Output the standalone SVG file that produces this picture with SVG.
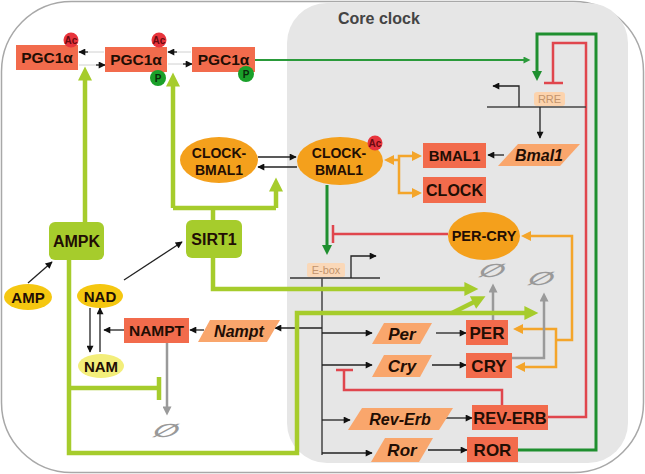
<svg xmlns="http://www.w3.org/2000/svg" width="645" height="474" viewBox="0 0 645 474">
<defs>
<style>
.t{font-family:"Liberation Sans",Arial,sans-serif;font-weight:bold;fill:#220e04;text-anchor:middle}
.i{font-style:italic}
.box{fill:#f26b4c}
.para{fill:#f9a66c}
.ell{fill:#f4a01c}
.grn{fill:#a6cc2c}
.yel{fill:#f5c710}
.lab{font-family:"Liberation Sans",Arial,sans-serif;font-size:11px;text-anchor:middle;fill:#c2946c}
.deg{font-family:"DejaVu Sans",sans-serif;font-size:22px;font-weight:bold;fill:#999;text-anchor:middle}
.k{fill:none;stroke:#222;stroke-width:1.3;marker-end:url(#mk)}
.lg{fill:none;stroke:#a6cc2c;stroke-width:4.5}
.dg{fill:none;stroke:#1f8f2f;stroke-width:3}
.rd{fill:none;stroke:#e0464d;stroke-width:2.5}
.or{fill:none;stroke:#f4a52a;stroke-width:2.5}
.gy{fill:none;stroke:#9a9a9a;stroke-width:2.5;marker-end:url(#mgy)}
</style>
<marker id="mk" viewBox="0 0 10 10" refX="9" refY="5" markerWidth="9" markerHeight="7" markerUnits="userSpaceOnUse" orient="auto"><path d="M0,0 L10,5 L0,10 z" fill="#111"/></marker>
<marker id="mlg" viewBox="0 0 10 10" refX="4" refY="5" markerWidth="16" markerHeight="14" markerUnits="userSpaceOnUse" orient="auto"><path d="M0,0 L10,5 L0,10 z" fill="#a6cc2c"/></marker>
<marker id="mdg" viewBox="0 0 10 10" refX="5" refY="5" markerWidth="14" markerHeight="10" markerUnits="userSpaceOnUse" orient="auto"><path d="M0,0 L10,5 L0,10 z" fill="#1f8f2f"/></marker>
<marker id="mdg2" viewBox="0 0 10 10" refX="5" refY="5" markerWidth="10" markerHeight="7" markerUnits="userSpaceOnUse" orient="auto"><path d="M0,0 L10,5 L0,10 z" fill="#2a9a3a"/></marker>
<marker id="mor" viewBox="0 0 10 10" refX="5" refY="5" markerWidth="12" markerHeight="10" markerUnits="userSpaceOnUse" orient="auto-start-reverse"><path d="M0,0 L10,5 L0,10 z" fill="#f4a52a"/></marker>
<marker id="mgy" viewBox="0 0 10 10" refX="5" refY="5" markerWidth="12" markerHeight="9" markerUnits="userSpaceOnUse" orient="auto"><path d="M0,0 L10,5 L0,10 z" fill="#9a9a9a"/></marker>
</defs>

<g id="frame">
<rect x="1.5" y="1.5" width="642" height="471" rx="70" fill="#fff" stroke="#a8a8a8" stroke-width="1.5"/>
<rect x="287" y="3" width="341" height="460" rx="40" fill="#e6e6e6"/>
<text x="338" y="24" style="font-family:'Liberation Sans',Arial,sans-serif;font-weight:bold;font-size:16px;fill:#444">Core clock</text>
</g>

<g id="connectors">
<line x1="104" y1="52" x2="80" y2="52" stroke="#d0d0d0" stroke-width="1"/>
<line x1="79" y1="65" x2="104" y2="65" stroke="#d0d0d0" stroke-width="1"/>
<line x1="191" y1="52" x2="168" y2="52" stroke="#d0d0d0" stroke-width="1"/>
<line x1="168" y1="64" x2="191" y2="64" stroke="#d0d0d0" stroke-width="1"/>
<path d="M88,52 L79,52" class="k"/>
<path d="M96,65 L105,65" class="k"/>
<path d="M177,52 L168,52" class="k"/>
<path d="M183,64 L192,64" class="k"/>
<path d="M255,60 L527,60" fill="none" stroke="#2a9a3a" stroke-width="2" marker-end="url(#mdg2)"/>
<path d="M518,450 L596,450 L596,34 L537,34 L537,76" class="dg" marker-end="url(#mdg)"/>
<path d="M327,185 L327,250" class="dg" marker-end="url(#mdg)"/>
<path d="M548,417 L586,417 L586,43 L553,43 L553,83" class="rd"/>
<path d="M544,83 L563,83" class="rd"/>
<path d="M448,234 L333,234 M333,225 L333,243" class="rd"/>
<path d="M502,405 L502,390 L344,390 L344,370 M336,370 L353,370" class="rd"/>
<path d="M487,107 L586,107" stroke="#444" stroke-width="1.5" fill="none"/>
<path d="M519,107 L519,86 L493,86" class="k"/>
<path d="M540,107 L540,138" class="k"/>
<path d="M504,155 L488,155" class="k"/>
<path d="M290,278 L380,278" stroke="#333" stroke-width="1.5" fill="none"/>
<path d="M351,278 L351,256 L376,256" class="k"/>
<path d="M322,278 L322,455" stroke="#444" stroke-width="1.5" fill="none"/>
<path d="M322,328 L275,328" class="k"/>
<path d="M322,333 L372,333" class="k"/>
<path d="M322,365 L372,365" class="k"/>
<path d="M322,420 L350,420" class="k"/>
<path d="M322,453 L372,453" class="k"/>
<path d="M436,333 L466,333" class="k"/>
<path d="M432,365 L466,365" class="k"/>
<path d="M446,418 L472,418" class="k"/>
<path d="M428,450 L467,450" class="k"/>
<path d="M258,157 L296,157" class="k"/>
<path d="M297,167 L258,167" class="k"/>
<path d="M399,160 L389,160" class="or" marker-end="url(#mor)"/>
<path d="M417,156 L399,156 L399,193 L417,193" class="or" marker-start="url(#mor)" marker-end="url(#mor)"/>
<path d="M556,340 L572,340 L572,236 L526,236" class="or" marker-end="url(#mor)"/>
<path d="M556,340 L556,329 L518,329" class="or" marker-end="url(#mor)"/>
<path d="M556,340 L556,367 L520,367" class="or" marker-end="url(#mor)"/>
<path d="M493,320 L493,288" class="gy"/>
<path d="M512,358 L544,358 L544,297" class="gy"/>
<path d="M167,343 L167,411" class="gy"/>
<path d="M28,283 L52,262" class="k"/>
<path d="M124,280 L182,242" class="k"/>
<path d="M90,308 L90,352" class="k"/>
<path d="M100,352 L100,308" class="k"/>
<path d="M124,330 L104,330" class="k"/>
<path d="M204,330 L190,330" class="k"/>
<path d="M85,222 L85,75" class="lg" marker-end="url(#mlg)"/>
<path d="M213,220 L213,208 M173,208 L276,208" class="lg"/>
<path d="M173,208 L173,81" class="lg" marker-end="url(#mlg)"/>
<path d="M276,208 L276,186" class="lg" marker-end="url(#mlg)"/>
<path d="M213,258 L213,289 L470,289" class="lg" marker-end="url(#mlg)"/>
<path d="M69,260 L69,453 L297,453 L297,313 L530,313" class="lg" marker-end="url(#mlg)"/>
<path d="M452,313 L478,300" class="lg" marker-end="url(#mlg)"/>
<path d="M69,388 L159,388 M159,377 L159,400" class="lg"/>
</g>

<g id="degr">
<text class="deg" transform="translate(493,270) scale(1.35,0.85) skewX(-20)" y="8">∅</text>
<text class="deg" transform="translate(542,278) scale(1.35,0.85) skewX(-20)" y="8">∅</text>
<text class="deg" transform="translate(167,430) scale(1.35,0.85) skewX(-20)" y="8">∅</text>
</g>

<g id="pgc1">
<rect x="16" y="45" width="62" height="25" class="box"/>
<text x="47" y="63" class="t" font-size="15.5">PGC1α</text>
<circle cx="71" cy="40" r="7.5" fill="#e8343c"/>
<text x="71" y="44" class="t" font-size="10" style="fill:#6a0a10">Ac</text>
</g>
<g id="pgc2">
<rect x="105" y="47" width="62" height="25" class="box"/>
<text x="136" y="65" class="t" font-size="15.5">PGC1α</text>
<circle cx="159" cy="40" r="7.5" fill="#e8343c"/>
<text x="159" y="44" class="t" font-size="10" style="fill:#6a0a10">Ac</text>
<circle cx="158" cy="78" r="8" fill="#1aa02a"/>
<text x="158" y="82" class="t" font-size="10" style="fill:#0a2a0a">P</text>
</g>
<g id="pgc3">
<rect x="192" y="47" width="63" height="25" class="box"/>
<text x="223.5" y="65" class="t" font-size="15.5">PGC1α</text>
<circle cx="246" cy="74" r="8" fill="#1aa02a"/>
<text x="246" y="78" class="t" font-size="10" style="fill:#0a2a0a">P</text>
</g>

<g id="rre">
<rect x="534" y="92" width="31" height="14" rx="3" fill="#fcd3ad"/>
<text x="549.5" y="103" class="lab">RRE</text>
</g>
<g id="ebox">
<rect x="307" y="263" width="38" height="14" rx="2" fill="#fad8b8"/>
<text x="326" y="274" class="lab">E-box</text>
</g>

<g id="bmal1gene">
<polygon points="518,144 580,144 560,166 498,166" class="para"/>
<text x="539" y="161" class="t i" font-size="16">Bmal1</text>
</g>
<g id="BMAL1">
<rect x="423" y="143" width="63" height="25" class="box"/>
<text x="454.5" y="161" class="t" font-size="15">BMAL1</text>
</g>
<g id="CLOCK">
<rect x="423" y="177" width="63" height="26" class="box"/>
<text x="454.5" y="196" class="t" font-size="16">CLOCK</text>
</g>

<g id="clockbmal1-ac">
<ellipse cx="340" cy="161" rx="43" ry="24" class="ell"/>
<text x="339" y="158" class="t" font-size="14">CLOCK-</text>
<text x="339" y="175" class="t" font-size="14">BMAL1</text>
<circle cx="375" cy="143" r="7.5" fill="#e8343c"/>
<text x="375" y="147" class="t" font-size="10" style="fill:#6a0a10">Ac</text>
</g>
<g id="clockbmal1">
<ellipse cx="219" cy="160" rx="39" ry="23" class="ell"/>
<text x="219" y="158" class="t" font-size="14">CLOCK-</text>
<text x="219" y="175" class="t" font-size="14">BMAL1</text>
</g>

<g id="percry">
<ellipse cx="484" cy="236" rx="36" ry="24" class="ell"/>
<text x="484" y="241" class="t" font-size="14.5">PER-CRY</text>
</g>

<g id="AMPK">
<rect x="49" y="222" width="55" height="38" rx="6" class="grn"/>
<text x="76.5" y="247" class="t" font-size="16">AMPK</text>
</g>
<g id="SIRT1">
<rect x="186" y="220" width="56" height="38" rx="6" class="grn"/>
<text x="214" y="245" class="t" font-size="16">SIRT1</text>
</g>
<g id="AMP">
<ellipse cx="28" cy="297" rx="24" ry="13" class="yel"/>
<text x="28" y="302.5" class="t" font-size="15">AMP</text>
</g>
<g id="NAD">
<ellipse cx="100" cy="296" rx="23" ry="12" class="yel"/>
<text x="100" y="301.5" class="t" font-size="15">NAD</text>
</g>
<g id="NAM">
<ellipse cx="101" cy="366" rx="23" ry="12" fill="#f3ee7a"/>
<text x="101" y="371.5" class="t" font-size="15">NAM</text>
</g>
<g id="NAMPT">
<rect x="124" y="318" width="65" height="25" class="box"/>
<text x="156.5" y="336" class="t" font-size="15.5">NAMPT</text>
</g>
<g id="nampt">
<polygon points="210,320 280,320 267,342 198,342" class="para"/>
<text x="239" y="337" class="t i" font-size="16">Nampt</text>
</g>

<g id="per">
<polygon points="384,323 432,323 420,344 372,344" class="para"/>
<text x="402" y="339.5" class="t i" font-size="17">Per</text>
</g>
<g id="cry">
<polygon points="384,355 432,355 420,377 372,377" class="para"/>
<text x="402" y="372" class="t i" font-size="17">Cry</text>
</g>
<g id="reverb">
<polygon points="362,408 453,408 439,430 348,430" class="para"/>
<text x="400" y="425" class="t i" font-size="16">Rev-Erb</text>
</g>
<g id="ror">
<polygon points="385,438 433,438 419,462 371,462" class="para"/>
<text x="402" y="456" class="t i" font-size="17">Ror</text>
</g>
<g id="PER">
<rect x="466" y="320" width="42" height="25" class="box"/>
<text x="487" y="339" class="t" font-size="17">PER</text>
</g>
<g id="CRY">
<rect x="466" y="353" width="46" height="25" class="box"/>
<text x="489" y="372" class="t" font-size="17">CRY</text>
</g>
<g id="REVERB">
<rect x="472" y="405" width="76" height="25" class="box"/>
<text x="510" y="424" class="t" font-size="16.5">REV-ERB</text>
</g>
<g id="ROR">
<rect x="467" y="437" width="51" height="25" class="box"/>
<text x="492.5" y="456" class="t" font-size="17">ROR</text>
</g>
</svg>
